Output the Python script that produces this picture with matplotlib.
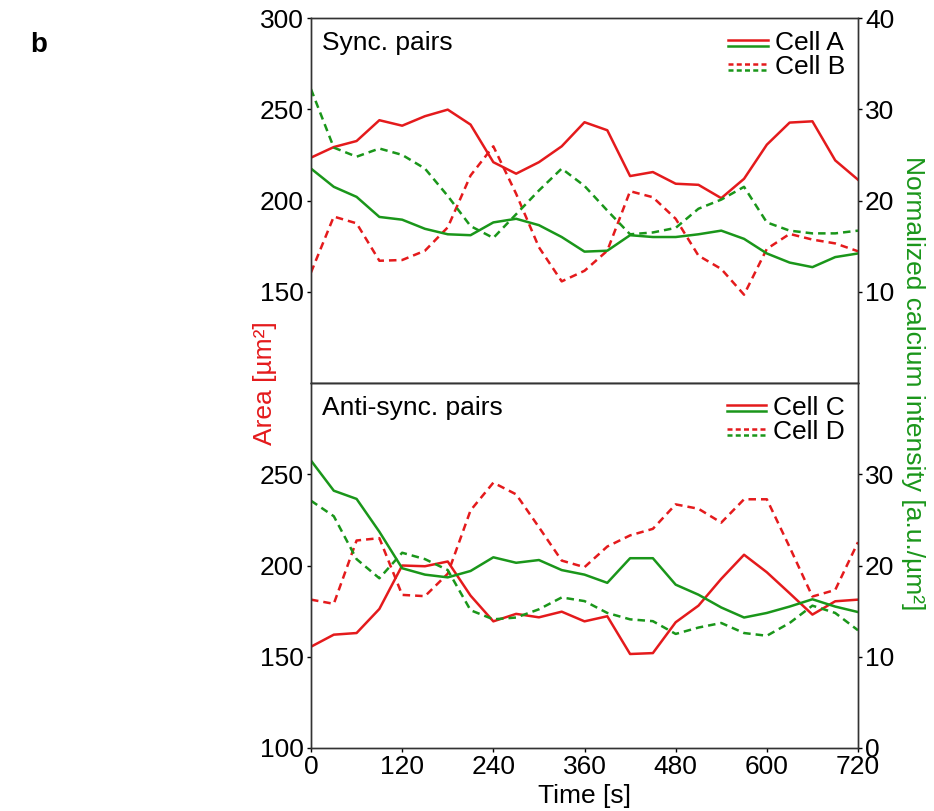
import numpy as np
import matplotlib
matplotlib.use("Agg")
import matplotlib.pyplot as plt
from matplotlib.lines import Line2D
from matplotlib.legend_handler import HandlerBase

plt.rcParams['font.family'] = ['Liberation Sans', 'DejaVu Sans']

# datos
tiempo = np.arange(0, 721, 30)

area_a = [223.5, 229.3, 232.6, 244, 241, 246.2, 249.8, 241.6, 221, 214.7, 221, 229.7,
          242.9, 238.5, 213.4, 215.6, 209.2, 208.6, 201.3, 211.9, 230.6, 242.7, 243.4, 222, 211.4]
area_b = [160.6, 191.2, 187.5, 167, 167.4, 172.5, 185.3, 213.7, 229.7, 203.7, 174.4, 155.7,
          161.5, 172.5, 205.1, 201.8, 190, 169.8, 162.5, 148.4, 173.5, 181.7, 178.6, 176.5, 172.2]
calcio_a = [23.5, 21.5, 20.4, 18.2, 17.9, 16.9, 16.3, 16.2, 17.6, 18.0, 17.3, 16.0,
            14.4, 14.5, 16.2, 16.0, 16.0, 16.3, 16.7, 15.8, 14.2, 13.2, 12.7, 13.8, 14.2]
calcio_b = [32.2, 25.8, 24.8, 25.7, 25.0, 23.5, 20.5, 17.2, 15.9, 18.5, 21.1, 23.5,
            21.6, 18.9, 16.3, 16.5, 17.0, 19.1, 20.1, 21.5, 17.6, 16.7, 16.4, 16.4, 16.7]

area_c = [155.5, 162.1, 163, 176.2, 200, 199.6, 202.2, 183.5, 169.4, 173.5, 171.6, 174.7,
          169.4, 172.2, 151.5, 152, 168.9, 178, 192.7, 205.9, 196.3, 184.8, 173.1, 180.4, 181.3]
area_d = [181.3, 179, 213.7, 215, 183.9, 183.2, 195.5, 230.2, 245.4, 239, 221, 202.7,
          199.1, 210.4, 216.5, 220.1, 233.5, 231.1, 223.5, 236.3, 236.3, 210.1, 183, 186.6, 212.8]
calcio_c = [31.5, 28.2, 27.3, 23.7, 19.7, 19.0, 18.7, 19.4, 20.9, 20.3, 20.6, 19.5,
            19.0, 18.1, 20.8, 20.8, 17.9, 16.8, 15.4, 14.3, 14.8, 15.5, 16.3, 15.5, 14.9]
calcio_d = [27.1, 25.4, 20.7, 18.6, 21.4, 20.7, 19.5, 15.1, 14.1, 14.3, 15.2, 16.5,
            16.1, 14.8, 14.1, 13.9, 12.5, 13.2, 13.7, 12.6, 12.3, 13.7, 15.6, 14.8, 12.9]

rojo = '#e41a1c'
verde = '#1a961a'
fs = 19


class Apilado(HandlerBase):
    # dos lineas una encima de otra en la leyenda
    def create_artists(self, legend, orig_handle, xdescent, ydescent,
                       width, height, fontsize, trans):
        arts = []
        for i, h in enumerate(orig_handle):
            y = height / 2 + 1 - 4.5 * i - ydescent
            l = Line2D([-xdescent, width - xdescent], [y, y],
                       color=h.get_color(), linestyle=h.get_linestyle(),
                       linewidth=h.get_linewidth(), transform=trans)
            if h.get_linestyle() == '--':
                l.set_dashes((2, 1.3))
            arts.append(l)
        return arts


fig = plt.figure(figsize=(9.34, 8.11), dpi=100)
izq, der = 311 / 934, 858 / 934
ax1 = fig.add_axes([izq, 0.5277, der - izq, 0.9778 - 0.5277])
ax2 = fig.add_axes([izq, 0.0777, der - izq, 0.5277 - 0.0777], sharex=ax1)

paneles = [
    (ax1, area_a, area_b, calcio_a, calcio_b, 'Sync. pairs', ['Cell A', 'Cell B'],
     [150, 200, 250, 300], [10, 20, 30, 40]),
    (ax2, area_c, area_d, calcio_c, calcio_d, 'Anti-sync. pairs', ['Cell C', 'Cell D'],
     [100, 150, 200, 250], [0, 10, 20, 30]),
]

for ax, a1, a2, c1, c2, titulo, nombres, yt, yt2 in paneles:
    axr = ax.twinx()
    l1, = ax.plot(tiempo, a1, color=rojo, lw=1.8)
    l2, = ax.plot(tiempo, a2, color=rojo, lw=1.8, ls='--', dashes=(3, 2))
    g1, = axr.plot(tiempo, c1, color=verde, lw=1.8)
    g2, = axr.plot(tiempo, c2, color=verde, lw=1.8, ls='--', dashes=(3, 2))
    ax.set_ylim(100, 300)
    axr.set_ylim(0, 40)
    ax.set_yticks(yt)
    axr.set_yticks(yt2)
    ax.set_xlim(0, 720)
    ax.tick_params(labelsize=fs, length=3, width=1, pad=2)
    axr.tick_params(labelsize=fs, length=3, width=1, pad=2)
    for s in list(ax.spines.values()) + list(axr.spines.values()):
        s.set_linewidth(1.0)
        s.set_color('#333333')
    ax.text(0.02, 0.965, titulo, transform=ax.transAxes, fontsize=fs, va='top')
    leg = axr.legend([(l1, g1), (l2, g2)], nombres, handler_map={tuple: Apilado()},
                     loc='upper right', fontsize=fs, frameon=False, handlelength=1.5,
                     handletextpad=0.25, labelspacing=0.0, borderaxespad=0.3,
                     borderpad=0.2)

ax1.tick_params(axis='x', labelbottom=False, length=0)
ax2.set_xticks(np.arange(0, 721, 120))
ax2.set_xlabel('Time [s]', fontsize=fs, labelpad=4)

fig.text(0.284, 0.5277, 'Area [µm²]', rotation=90, color=rojo, fontsize=fs,
         ha='center', va='center')
fig.text(0.978, 0.5277, 'Normalized calcium intensity [a.u./µm²]', rotation=270,
         color=verde, fontsize=fs, ha='center', va='center')
fig.text(0.041, 0.945, 'b', fontsize=fs + 1, fontweight='bold', ha='center', va='center')

plt.savefig('out.png', dpi=100)
